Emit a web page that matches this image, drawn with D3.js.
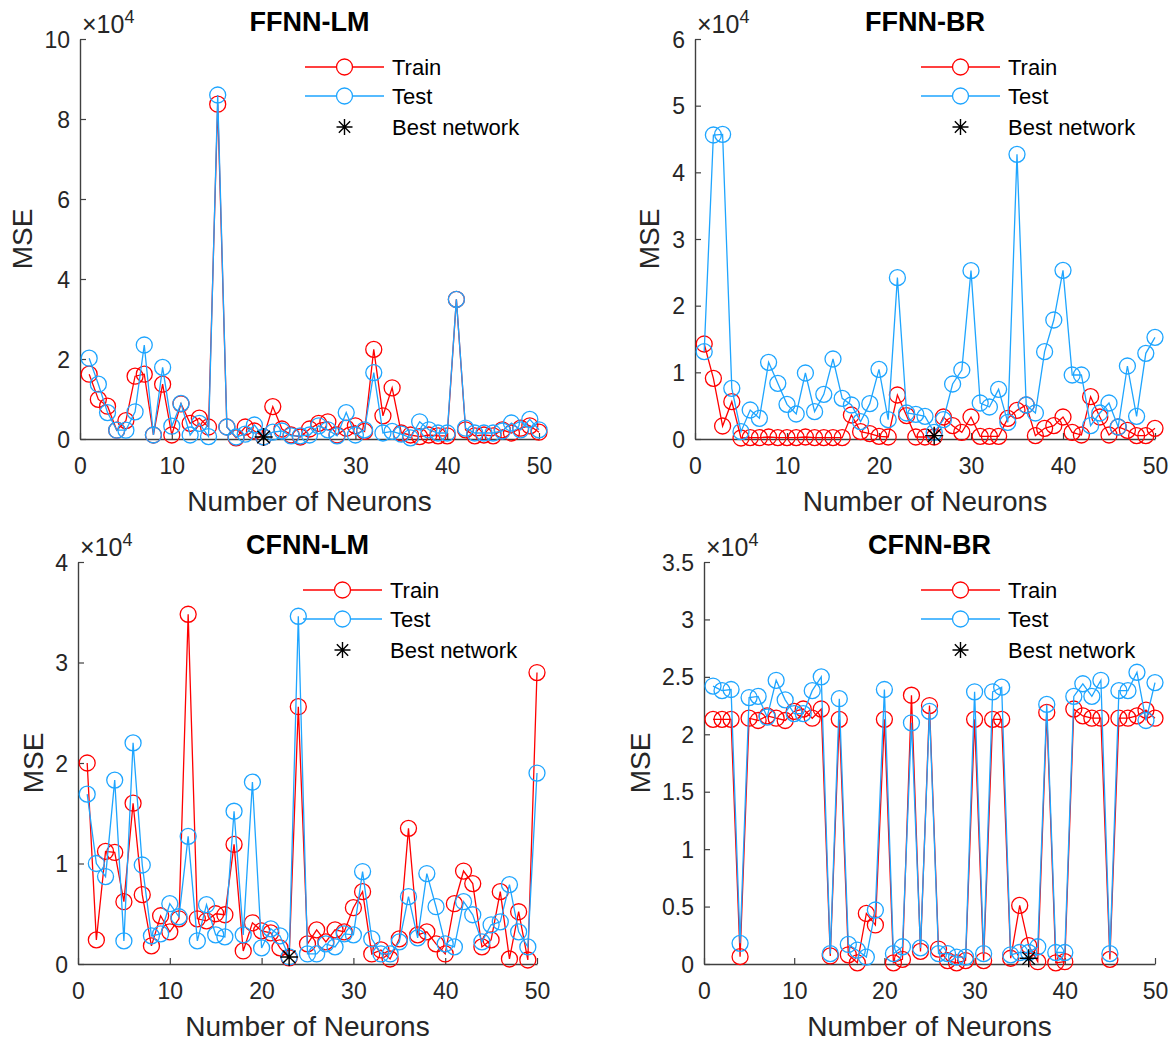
<!DOCTYPE html>
<html>
<head>
<meta charset="utf-8">
<script src="https://cdn.jsdelivr.net/npm/d3@7"></script>
<style>
  body { margin: 0; background: #fff; }
  svg { display: block; font-family: "Liberation Sans", Arial, sans-serif; }
</style>
</head>
<body>
<svg id="chart" width="1173" height="1046"></svg>
<script>
// MSE values are in units of 1e4 (axes show x10^4)
const neurons = d3.range(1, 51);

const ffnnLmTrain = [1.62, 0.99, 0.82, 0.22, 0.46, 1.57, 1.62, 0.1, 1.37, 0.1,
  0.88, 0.39, 0.52, 0.3, 8.37, 0.3, 0.03, 0.3, 0.2, 0.05,
  0.81, 0.25, 0.1, 0.05, 0.25, 0.39, 0.43, 0.1, 0.27, 0.33,
  0.19, 2.24, 0.58, 1.28, 0.15, 0.1, 0.06, 0.1, 0.08, 0.08,
  3.49, 0.23, 0.08, 0.1, 0.08, 0.23, 0.15, 0.27, 0.33, 0.17];
const ffnnLmTest = [2.02, 1.37, 0.66, 0.22, 0.22, 0.68, 2.35, 0.1, 1.79, 0.32,
  0.89, 0.1, 0.39, 0.06, 8.6, 0.3, 0.05, 0.12, 0.35, 0.05,
  0.17, 0.2, 0.08, 0.08, 0.1, 0.33, 0.23, 0.08, 0.66, 0.1,
  0.23, 1.66, 0.15, 0.19, 0.12, 0.03, 0.43, 0.23, 0.15, 0.15,
  3.49, 0.27, 0.15, 0.15, 0.15, 0.2, 0.4, 0.23, 0.49, 0.23];

const ffnnBrTrain = [1.425, 0.91, 0.195, 0.56, 0.015, 0.02, 0.02, 0.03, 0.02, 0.02,
  0.02, 0.03, 0.02, 0.02, 0.02, 0.02, 0.36, 0.11, 0.08, 0.04,
  0.03, 0.66, 0.35, 0.03, 0.03, 0.03, 0.33, 0.2, 0.1, 0.33,
  0.04, 0.04, 0.04, 0.31, 0.43, 0.51, 0.05, 0.16, 0.2, 0.33,
  0.1, 0.06, 0.635, 0.33, 0.06, 0.18, 0.13, 0.05, 0.05, 0.16];
const ffnnBrTest = [1.31, 4.56, 4.57, 0.76, 0.11, 0.435, 0.31, 1.15, 0.835, 0.52,
  0.375, 0.99, 0.41, 0.67, 1.2, 0.61, 0.51, 0.26, 0.53, 1.045,
  0.29, 2.42, 0.39, 0.37, 0.34, 0.1, 0.29, 0.825, 1.035, 2.525,
  0.54, 0.48, 0.745, 0.25, 4.27, 0.51, 0.39, 1.31, 1.785, 2.53,
  0.96, 0.96, 0.2, 0.39, 0.54, 0.18, 1.095, 0.34, 1.285, 1.525];

const cfnnLmTrain = [2.0, 0.24, 1.12, 1.11, 0.62, 1.6, 0.69, 0.18, 0.48, 0.32,
  0.45, 3.48, 0.45, 0.43, 0.5, 0.49, 1.19, 0.13, 0.41, 0.33,
  0.31, 0.16, 0.06, 2.56, 0.2, 0.34, 0.22, 0.34, 0.32, 0.56,
  0.72, 0.1, 0.14, 0.05, 0.25, 1.35, 0.29, 0.32, 0.2, 0.1,
  0.6, 0.925, 0.8, 0.17, 0.24, 0.72, 0.05, 0.52, 0.04, 2.9];
const cfnnLmTest = [1.69, 1.0, 0.87, 1.83, 0.23, 2.2, 0.985, 0.28, 0.3, 0.6,
  0.47, 1.27, 0.23, 0.59, 0.29, 0.27, 1.52, 0.29, 1.81, 0.16,
  0.35, 0.28, 0.07, 3.46, 0.1, 0.1, 0.2, 0.17, 0.3, 0.29,
  0.92, 0.25, 0.1, 0.1, 0.22, 0.67, 0.26, 0.9, 0.57, 0.2,
  0.17, 0.62, 0.49, 0.22, 0.39, 0.42, 0.79, 0.32, 0.17, 1.9];

const cfnnBrTrain = [2.13, 2.13, 2.13, 0.064, 2.14, 2.12, 2.16, 2.14, 2.12, 2.2,
  2.22, 2.14, 2.22, 0.07, 2.13, 0.08, 0.01, 0.44, 0.34, 2.13,
  0.01, 0.04, 2.34, 0.11, 2.25, 0.13, 0.03, 0.01, 0.03, 2.13,
  0.03, 2.13, 2.13, 0.05, 0.51, 0.16, 0.02, 2.19, 0.01, 0.02,
  2.22, 2.16, 2.14, 2.14, 0.04, 2.14, 2.14, 2.16, 2.21, 2.14];
const cfnnBrTest = [2.42, 2.38, 2.39, 0.18, 2.32, 2.33, 2.15, 2.47, 2.3, 2.18,
  2.18, 2.38, 2.5, 0.09, 2.31, 0.17, 0.12, 0.06, 0.47, 2.39,
  0.09, 0.15, 2.1, 0.14, 2.2, 0.09, 0.09, 0.06, 0.06, 2.37,
  0.09, 2.37, 2.41, 0.08, 0.1, 0.1, 0.15, 2.26, 0.1, 0.1,
  2.33, 2.44, 2.33, 2.47, 0.09, 2.38, 2.38, 2.54, 2.12, 2.45];

const titles = ['FFNN-LM', 'FFNN-BR', 'CFNN-LM', 'CFNN-BR'];
const bestNeurons = [20, 26, 23, 36];
const bestValues = [0.05, 0.05, 0.07, 0.05];
const yMax = [10, 6, 4, 3.5];
const yTicks = [[0, 2, 4, 6, 8, 10], [0, 1, 2, 3, 4, 5, 6], [0, 1, 2, 3, 4],
  [0, 0.5, 1, 1.5, 2, 2.5, 3, 3.5]];
const xTicks = [0, 10, 20, 30, 40, 50];
const legendLabels = ['Train', 'Test', 'Best network'];

const trainColor = '#ff0000';
const testColor = '#1ea5ff';
const axisColor = '#404040';
const textColor = '#262626';

// axes boxes in pixels
const boxes = [
  { l: 80, r: 539, t: 39, b: 439, yLab: 22 },
  { l: 695, r: 1155, t: 39, b: 439, yLab: 649 },
  { l: 78, r: 537, t: 562, b: 964, yLab: 33 },
  { l: 704, r: 1155, t: 562, b: 964, yLab: 640 },
];
const series = [
  [ffnnLmTrain, ffnnLmTest],
  [ffnnBrTrain, ffnnBrTest],
  [cfnnLmTrain, cfnnLmTest],
  [cfnnBrTrain, cfnnBrTest],
];

const svg = d3.select('#chart');

const star = (g, x, y, s) => {
  const d = s * 0.707;
  g.append('path')
    .attr('d', `M${x - s},${y}L${x + s},${y}M${x},${y - s}L${x},${y + s}` +
      `M${x - d},${y - d}L${x + d},${y + d}M${x - d},${y + d}L${x + d},${y - d}`)
    .attr('stroke', '#000')
    .attr('stroke-width', 1.4)
    .attr('fill', 'none');
};

const drawPanel = (i) => {
  const bx = boxes[i];
  const g = svg.append('g');

  const x = d3.scaleLinear().domain([0, 50]).range([bx.l, bx.r]);
  const y = d3.scaleLinear().domain([0, yMax[i]]).range([bx.b, bx.t]);

  // axes
  const xAxis = d3.axisBottom(x).tickValues(xTicks).tickSizeInner(-6).tickSizeOuter(0).tickPadding(18);
  const yAxis = d3.axisLeft(y).tickValues(yTicks[i]).tickSizeInner(-6).tickSizeOuter(0).tickPadding(10)
    .tickFormat(d3.format('~g'));

  const gx = g.append('g').attr('transform', `translate(0,${bx.b})`).call(xAxis);
  const gy = g.append('g').attr('transform', `translate(${bx.l},0)`).call(yAxis);
  [gx, gy].forEach((a) => {
    a.select('.domain').attr('stroke', axisColor).attr('stroke-width', 1.4);
    a.selectAll('.tick line').attr('stroke', axisColor).attr('stroke-width', 1.2);
    a.selectAll('.tick text').attr('fill', textColor).style('font-size', '23px');
  });
  gx.selectAll('.tick text').attr('dy', '0.75em');
  gy.selectAll('.tick text').attr('dy', '0.35em');

  // x10^4 multiplier
  const mult = g.append('text')
    .attr('x', bx.l + 2)
    .attr('y', bx.t - 6)
    .attr('fill', textColor)
    .style('font-size', '25px');
  mult.append('tspan').text('\u00d710');
  mult.append('tspan').attr('dy', -10).style('font-size', '18px').text('4');

  // title
  g.append('text')
    .attr('x', (bx.l + bx.r) / 2)
    .attr('y', bx.t - 8)
    .attr('text-anchor', 'middle')
    .attr('fill', '#000')
    .style('font-size', '27px')
    .style('font-weight', 'bold')
    .text(titles[i]);

  // axis labels
  g.append('text')
    .attr('x', (bx.l + bx.r) / 2)
    .attr('y', bx.b + 72)
    .attr('text-anchor', 'middle')
    .attr('fill', textColor)
    .style('font-size', '28px')
    .text('Number of Neurons');
  g.append('text')
    .attr('transform', `translate(${bx.yLab},${(bx.t + bx.b) / 2}) rotate(-90)`)
    .attr('text-anchor', 'middle')
    .attr('dy', '0.35em')
    .attr('fill', textColor)
    .style('font-size', '28px')
    .text('MSE');

  // lines and markers
  const line = d3.line().x((d, k) => x(neurons[k])).y((d) => y(d));
  const [train, test] = series[i];
  [[train, trainColor], [test, testColor]].forEach(([vals, col]) => {
    g.append('path')
      .datum(vals)
      .attr('d', line)
      .attr('fill', 'none')
      .attr('stroke', col)
      .attr('stroke-width', 1.3);
    g.append('g')
      .selectAll('circle')
      .data(vals)
      .join('circle')
      .attr('cx', (d, k) => x(neurons[k]))
      .attr('cy', (d) => y(d))
      .attr('r', 8)
      .attr('fill', 'none')
      .attr('stroke', col)
      .attr('stroke-width', 1.3);
  });

  star(g, x(bestNeurons[i]), y(bestValues[i]), 9);

  // legend
  const lx = bx.r - 234;
  const rows = [bx.t + 28, bx.t + 57, bx.t + 88];
  const cols = [trainColor, testColor, null];
  legendLabels.forEach((lab, k) => {
    const ry = rows[k];
    if (cols[k]) {
      g.append('line')
        .attr('x1', lx).attr('x2', lx + 79)
        .attr('y1', ry).attr('y2', ry)
        .attr('stroke', cols[k]).attr('stroke-width', 1.3);
      g.append('circle')
        .attr('cx', lx + 39.5).attr('cy', ry).attr('r', 8)
        .attr('fill', '#fff').attr('stroke', cols[k]).attr('stroke-width', 1.3);
    } else {
      star(g, lx + 39.5, ry, 8);
    }
    g.append('text')
      .attr('x', lx + 87)
      .attr('y', ry)
      .attr('dy', '0.35em')
      .attr('fill', '#000')
      .style('font-size', '22px')
      .text(lab);
  });
};

d3.range(4).forEach(drawPanel);
</script>
</body>
</html>
